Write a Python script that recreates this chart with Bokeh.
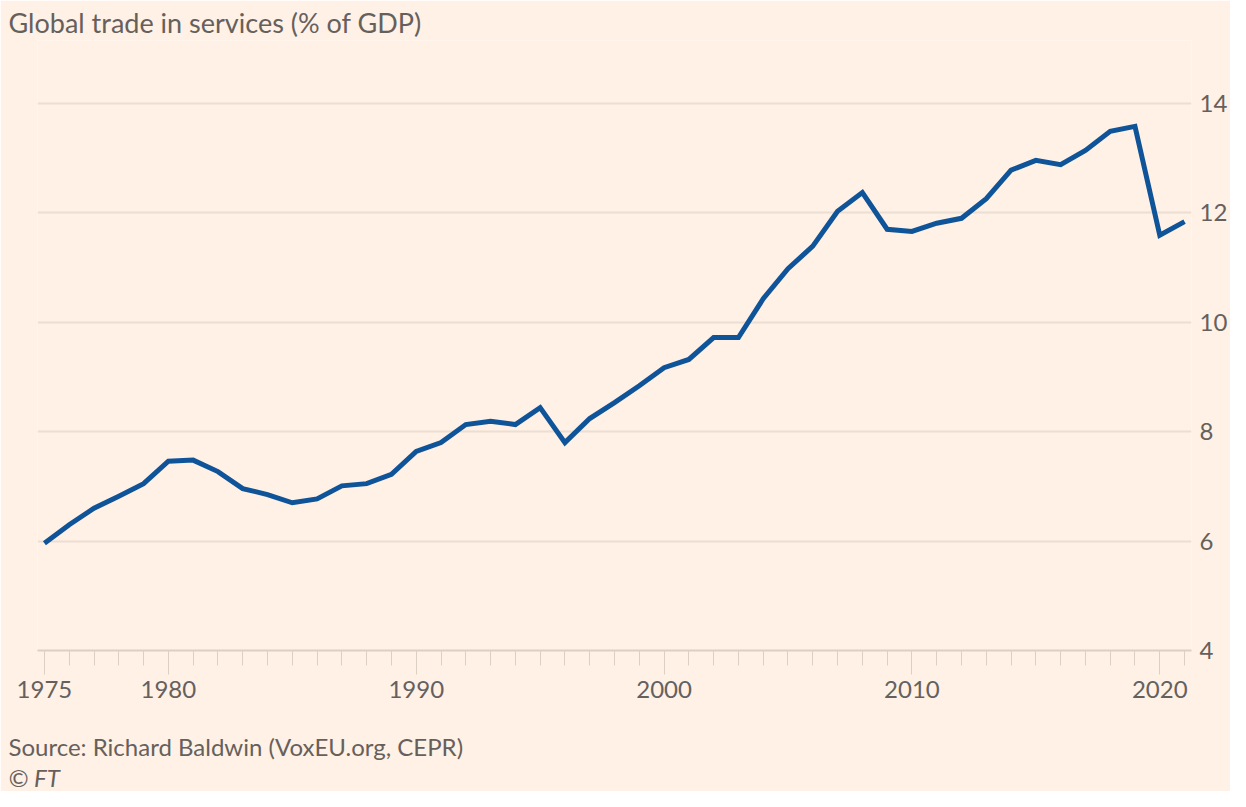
from bokeh.plotting import figure
from bokeh.models import FixedTicker, LinearAxis, Title, Range1d
from bokeh.embed import file_html
from bokeh.resources import INLINE

years = list(range(1975, 2022))
services_pct_gdp = [5.96, 6.30, 6.60, 6.82, 7.05, 7.46, 7.48, 7.27, 6.96, 6.85,
                    6.70, 6.77, 7.01, 7.05, 7.22, 7.64, 7.80, 8.13, 8.19, 8.13,
                    8.44, 7.80, 8.24, 8.53, 8.84, 9.17, 9.32, 9.72, 9.72, 10.43,
                    10.98, 11.39, 12.03, 12.37, 11.70, 11.66, 11.81, 11.90, 12.26, 12.78,
                    12.96, 12.88, 13.14, 13.49, 13.58, 11.59, 11.84]
x_tick_labels = [1975, 1980, 1990, 2000, 2010, 2020]
y_ticks = [4, 6, 8, 10, 12, 14]
title_text = "Global trade in services (% of GDP)"
source_text = "Source: Richard Baldwin (VoxEU.org, CEPR)"
credit_text = "© FT"

BG = "#FFF1E5"
TXT = "#66605C"
FONT = "Lato"

p = figure(width=1230, height=791, output_backend="svg", toolbar_location=None,
           x_range=Range1d(1974.72, 2021.28), y_range=Range1d(4, 15.15),
           y_axis_location=None,
           background_fill_color=BG, border_fill_color=BG,
           min_border_left=37, min_border_right=35, min_border_top=40, min_border_bottom=60)
p.outline_line_color = None

p.title.text = title_text
p.title.text_font = FONT
p.title.text_font_size = "27px"
p.title.text_font_style = "normal"
p.title.text_color = TXT
p.title.offset = -29
p.title.standoff = 4

p.line(years, services_pct_gdp, line_color="#0F5499", line_width=5, line_join="miter")

# x axis
xa = p.xaxis[0]
xa.ticker = FixedTicker(ticks=x_tick_labels, minor_ticks=years)
xa.axis_line_color = "#DCCFC4"
xa.axis_line_width = 2
xa.major_tick_line_color = "#DCCFC4"
xa.minor_tick_line_color = "#DCCFC4"
xa.major_tick_in = 0
xa.major_tick_out = 24
xa.minor_tick_in = 0
xa.minor_tick_out = 15
xa.major_label_standoff = 6
xa.major_label_text_font = FONT
xa.major_label_text_font_size = "24px"
xa.major_label_text_color = TXT

# right y axis
ya = LinearAxis(ticker=FixedTicker(ticks=y_ticks))
ya.axis_line_color = None
ya.major_tick_line_color = None
ya.minor_tick_line_color = None
ya.major_tick_in = 0
ya.major_tick_out = 0
ya.minor_tick_in = 0
ya.minor_tick_out = 0
ya.major_label_standoff = 8
ya.major_label_text_font = FONT
ya.major_label_text_font_size = "24px"
ya.major_label_text_color = TXT
p.add_layout(ya, "right")

p.xgrid.grid_line_color = None
p.ygrid.ticker = FixedTicker(ticks=[6, 8, 10, 12, 14])
p.ygrid.grid_line_color = "#EBDED3"
p.ygrid.grid_line_width = 2

spacer = Title(text=" ", text_font=FONT, text_font_size="10px", text_color=BG,
               standoff=15)
p.add_layout(spacer, "below")
src = Title(text=source_text, text_font=FONT,
            text_font_size="24px", text_font_style="normal", text_color=TXT,
            offset=-29, standoff=0)
p.add_layout(src, "below")
ft = Title(text=credit_text, text_font=FONT, text_font_size="24px", text_font_style="italic",
           text_color=TXT, offset=-29, standoff=0)
p.add_layout(ft, "below")

open("out.html", "w").write(file_html(p, INLINE))
